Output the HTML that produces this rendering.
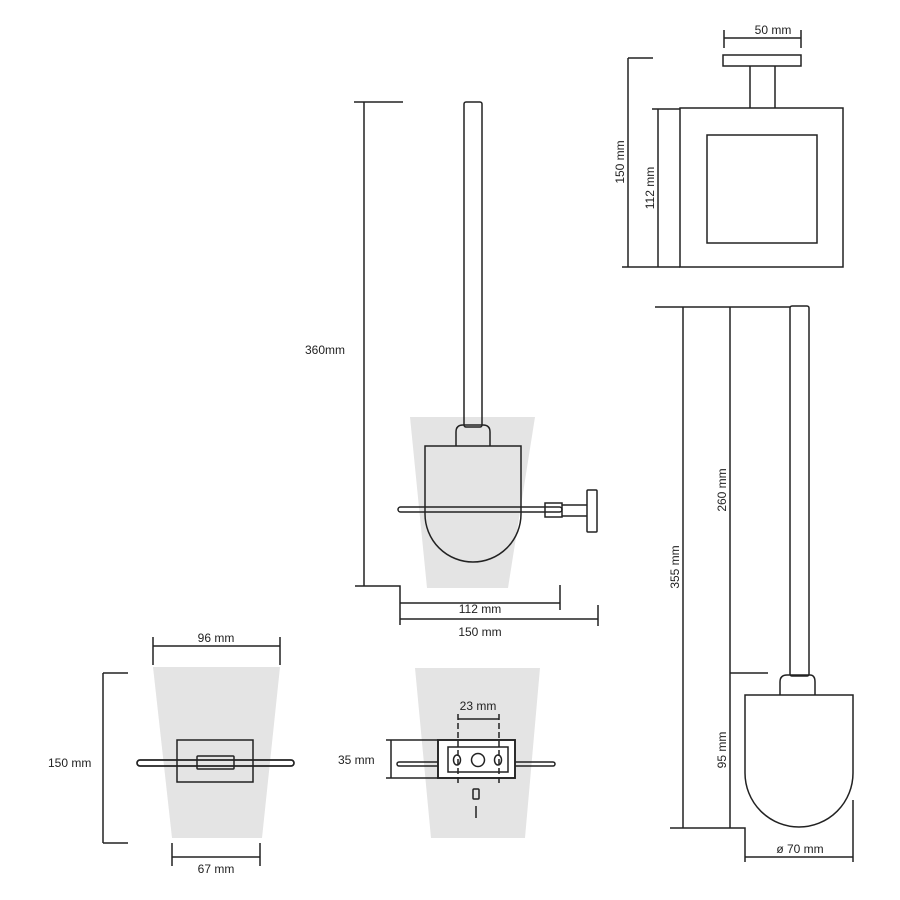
<!DOCTYPE html>
<html><head><meta charset="utf-8"><style>
html,body{margin:0;padding:0;background:#fff}
svg{display:block}
text{font-family:"Liberation Sans",sans-serif;font-size:12px;fill:#222}
</style></head><body>
<svg width="900" height="900" viewBox="0 0 900 900" xmlns="http://www.w3.org/2000/svg">
<g stroke="#222" stroke-width="1.5" fill="none">
<!-- top center -->
<polygon points="410,417 535,417 508,588 427,588" fill="#e4e4e4" stroke="none"/>
<rect x="464" y="102" width="18" height="325" rx="2"/>
<path d="M456,446 V432 Q456,425 463,425 H483 Q490,425 490,432 V446"/>
<path d="M425,446 H521 V514 A48,48 0 0 1 425,514 Z"/>
<rect x="398" y="507" width="164" height="5" rx="2.5"/>
<rect x="545" y="503" width="17" height="14"/>
<path d="M562,505 H587 M562,516 H587"/>
<rect x="587" y="490" width="10" height="42" rx="1"/>
<path d="M354,102 H403 M364,102 V586 M355,586 H400 V625 M400,603 H560 M560,585 V610 M400,619 H598 M598,605 V626"/>
<!-- top right -->
<rect x="723" y="55" width="78" height="11"/>
<path d="M750,66 V108 M775,66 V108"/>
<rect x="680" y="108" width="163" height="159"/>
<rect x="707" y="135" width="110" height="108"/>
<path d="M724,30 V48 M801,30 V48 M724,38 H801 M628,58 H653 M628,58 V267 M658,109 V267 M622,267 H680 M652,109 H680"/>
<!-- right brush -->
<rect x="790" y="306" width="19" height="370" rx="2"/>
<path d="M780,695 V682 Q780,675 787,675 H810 Q815,675 815,682 V695"/>
<path d="M745,695 H853 V773 A54,54 0 0 1 745,773 Z"/>
<path d="M655,307 H790 M683,307 V828 M730,307 V828 M730,673 H768 M670,828 H745 V862 M745,857 H853 M853,800 V862"/>
<!-- bottom left -->
<polygon points="153,667 280,667 262,838 172,838" fill="#e4e4e4" stroke="none"/>
<path d="M153,637 V665 M280,637 V665 M153,646 H280 M103,673 H128 M103,673 V843 M103,843 H128 M172,843 V866 M260,843 V866 M172,857 H260"/>
<rect x="177" y="740" width="76" height="42"/>
<rect x="137" y="760" width="157" height="6" rx="3" stroke-width="1.7"/>
<rect x="197" y="756" width="37" height="13" rx="1"/>
<!-- bottom middle -->
<polygon points="415,668 540,668 525,838 431,838" fill="#e4e4e4" stroke="none"/>
<rect x="397" y="762" width="158" height="4" rx="2"/>
<rect x="438" y="740" width="77" height="38" fill="#fff" stroke-width="1.9"/>
<rect x="448" y="747" width="60" height="25"/>
<ellipse cx="457" cy="760" rx="3.5" ry="5"/>
<circle cx="478" cy="760" r="6.5"/>
<ellipse cx="498" cy="760" rx="3.5" ry="5"/>
<path d="M458,719 H499"/>
<path d="M458,714 V785 M499,714 V785" stroke-dasharray="6,3"/>
<path d="M391,740 V778 M386,740 H438 M386,778 H438"/>
<rect x="473" y="789" width="6" height="10" rx="1"/>
<path d="M476,806 V818"/>
</g>
<text x="305" y="354">360mm</text>
<text x="480" y="613" text-anchor="middle">112 mm</text>
<text x="480" y="636" text-anchor="middle">150 mm</text>
<text x="773" y="34" text-anchor="middle">50 mm</text>
<text transform="translate(624,162) rotate(-90)" text-anchor="middle">150 mm</text>
<text transform="translate(654,188) rotate(-90)" text-anchor="middle">112 mm</text>
<text transform="translate(679,567) rotate(-90)" text-anchor="middle">355 mm</text>
<text transform="translate(726,490) rotate(-90)" text-anchor="middle">260 mm</text>
<text transform="translate(726,750) rotate(-90)" text-anchor="middle">95 mm</text>
<text x="800" y="853" text-anchor="middle">ø 70 mm</text>
<text x="216" y="642" text-anchor="middle">96 mm</text>
<text x="48" y="767">150 mm</text>
<text x="216" y="873" text-anchor="middle">67 mm</text>
<text x="478" y="710" text-anchor="middle">23 mm</text>
<text x="338" y="764">35 mm</text>
</svg>
</body></html>
